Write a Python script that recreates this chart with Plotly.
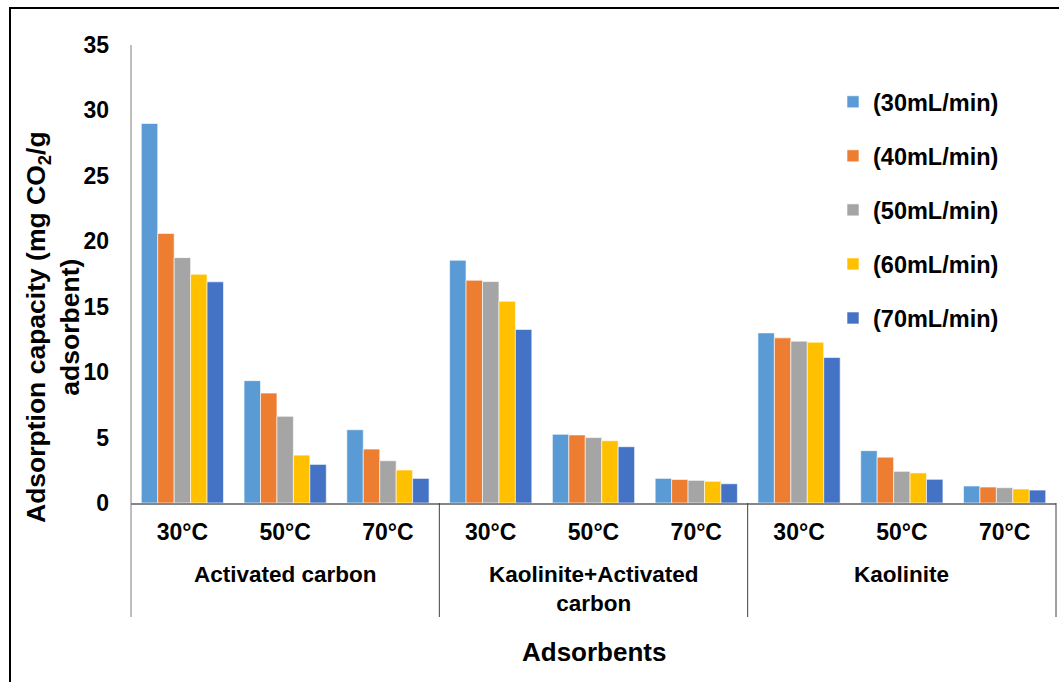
import plotly.graph_objects as go

groups = ["Activated carbon", "Kaolinite+Activated<br>carbon", "Kaolinite"]
temps = ["30°C", "50°C", "70°C"]
series_names = ["(30mL/min)", "(40mL/min)", "(50mL/min)", "(60mL/min)", "(70mL/min)"]
colors = ["#5B9BD5", "#ED7D31", "#A5A5A5", "#FFC000", "#4472C4"]

# values ordered: AC 30,50,70 | K+AC 30,50,70 | K 30,50,70
flow_30 = [29.0, 9.35, 5.6, 18.55, 5.25, 1.88, 13.0, 4.0, 1.3]
flow_40 = [20.6, 8.4, 4.12, 17.02, 5.2, 1.8, 12.62, 3.5, 1.22]
flow_50 = [18.75, 6.62, 3.23, 16.92, 5.0, 1.73, 12.37, 2.42, 1.17]
flow_60 = [17.48, 3.66, 2.52, 15.42, 4.76, 1.66, 12.29, 2.3, 1.07]
flow_70 = [16.9, 2.95, 1.88, 13.26, 4.3, 1.47, 11.12, 1.81, 0.99]
series_values = [flow_30, flow_40, flow_50, flow_60, flow_70]

y_title = "Adsorption capacity (mg CO<sub>2</sub>/g<br>adsorbent)"
x_title = "Adsorbents"

n_cat = len(groups) * len(temps)
x_idx = list(range(n_cat))
tick_text = [t for g in groups for t in temps]

FONT = "Liberation Sans, Arial, sans-serif"

fig = go.Figure()
for i, (name, vals) in enumerate(zip(series_names, series_values)):
    fig.add_trace(go.Bar(
        x=x_idx, y=vals, name=name, legendgroup=name,
        marker=dict(color=colors[i], line=dict(color="rgba(255,255,255,0.6)", width=1)),
    ))

# plot area geometry (pixels)
L, R, T, B = 131, 3, 45, 179
W, H = 1059, 682
pw, ph = W - L - R, H - T - B


def py(pix):
    return (H - B - pix) / ph


def px(pix):
    return (pix - L) / pw


shapes = []
n_t = len(temps)
for k in range(len(groups) + 1):
    xb = k * n_t / n_cat
    top = 1 if k == 0 else 0
    col = "#7F7F7F" if k == 0 else "#404040"
    shapes.append(dict(type="line", xref="paper", yref="paper",
                       x0=xb, x1=xb, y0=py(617), y1=top,
                       line=dict(color=col, width=1)))
# outer frame
shapes.append(dict(type="rect", xref="paper", yref="paper",
                   x0=px(10), x1=px(1100), y0=py(720), y1=py(8),
                   line=dict(color="#000000", width=2), fillcolor="rgba(0,0,0,0)", layer="below"))

annotations = []
for gi, g in enumerate(groups):
    annotations.append(dict(
        x=gi * n_t + (n_t - 1) / 2, xref="x", y=py(560), yref="paper",
        text=g, showarrow=False, yanchor="top", xanchor="center",
        font=dict(family=FONT, size=22.5, color="#000000", weight="bold"),
    ))
annotations.append(dict(
    x=0.5, xref="paper", y=py(652), yref="paper", text=x_title, showarrow=False,
    xanchor="center", yanchor="middle",
    font=dict(family=FONT, size=26, color="#000000", weight="bold"),
))
annotations.append(dict(
    x=px(53), xref="paper", y=py(327), yref="paper", text=y_title, showarrow=False,
    xanchor="center", yanchor="middle", textangle=-90,
    font=dict(family=FONT, size=26.5, color="#000000", weight="bold"),
))

fig.update_layout(
    width=W, height=H,
    margin=dict(l=L, r=R, t=T, b=B, autoexpand=False),
    paper_bgcolor="white", plot_bgcolor="white",
    barmode="group", bargap=0.2, bargroupgap=0,
    font=dict(family=FONT, color="#000000"),
    showlegend=True,
    legend=dict(
        x=px(833), y=py(80), xanchor="left", yanchor="top",
        font=dict(family=FONT, size=23.5, color="#000000", weight="bold"),
        traceorder="grouped", tracegroupgap=20.5,
        bgcolor="rgba(0,0,0,0)",
    ),
    xaxis=dict(
        range=[-0.5, n_cat - 0.5],
        tickmode="array", tickvals=x_idx, ticktext=tick_text,
        tickfont=dict(family=FONT, size=23, color="#000000", weight="bold"),
        ticks="", ticklabelstandoff=8,
        showline=True, linecolor="#868686", linewidth=1.5,
        showgrid=False, zeroline=False,
    ),
    yaxis=dict(
        range=[0, 35], dtick=5,
        tickfont=dict(family=FONT, size=23, color="#000000", weight="bold"),
        ticks="", ticklabelstandoff=21,
        showline=False, showgrid=False, zeroline=False,
    ),
    shapes=shapes,
    annotations=annotations,
)

fig.write_html("out.html", config={"displayModeBar": False},
               post_script="document.body.style.margin='0';document.body.style.padding='0';")
